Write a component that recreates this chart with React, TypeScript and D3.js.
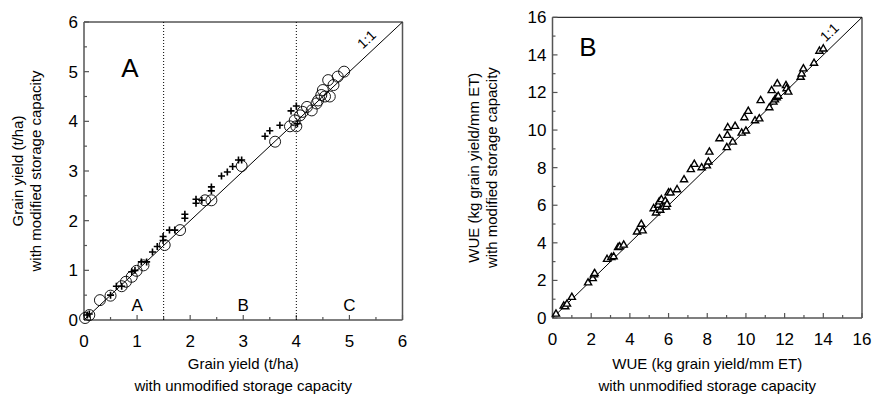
import React from "react";
import * as d3 from "d3";

// Panel A data
const circleX = [0.02, 0.1, 0.3, 0.5, 0.71, 0.79, 0.9, 0.99, 1.12, 1.52, 1.81, 2.28, 2.4, 2.97, 3.6, 3.88, 4.0, 3.97, 4.07, 4.12, 4.2, 4.29, 4.38, 4.41, 4.47, 4.54, 4.5, 4.63, 4.6, 4.7, 4.78, 4.9];
const circleY = [0.04, 0.1, 0.4, 0.49, 0.68, 0.77, 0.87, 0.99, 1.1, 1.51, 1.81, 2.41, 2.41, 3.1, 3.59, 3.9, 3.9, 4.02, 4.12, 4.19, 4.29, 4.22, 4.36, 4.42, 4.53, 4.5, 4.63, 4.5, 4.83, 4.73, 4.9, 5.0];
const plusX = [0.06, 0.1, 0.5, 0.61, 0.71, 0.9, 0.96, 1.08, 1.18, 1.29, 1.38, 1.49, 1.49, 1.61, 1.71, 1.9, 1.9, 2.11, 2.11, 2.22, 2.4, 2.4, 2.59, 2.7, 2.8, 2.91, 2.97, 3.41, 3.5, 3.69, 3.9, 4.0, 4.02];
const plusY = [0.1, 0.12, 0.5, 0.68, 0.68, 0.97, 1.0, 1.17, 1.17, 1.37, 1.48, 1.68, 1.6, 1.81, 1.81, 2.05, 2.13, 2.35, 2.43, 2.41, 2.68, 2.6, 2.9, 2.98, 3.09, 3.22, 3.22, 3.7, 3.81, 3.92, 4.21, 4.31, 3.95];

// Panel B data
const triX = [0.18, 0.58, 0.66, 0.75, 1.0, 1.84, 2.08, 2.14, 2.18, 2.82, 3.04, 3.16, 3.39, 3.47, 3.68, 4.37, 4.59, 4.66, 5.23, 5.35, 5.46, 5.52, 5.57, 5.63, 5.74, 5.83, 5.87, 5.92, 6.0, 6.1, 6.44, 6.8, 7.15, 7.33, 7.71, 7.98, 8.06, 8.11, 8.63, 9.01, 9.04, 9.06, 9.32, 9.44, 9.78, 9.92, 10.0, 10.12, 10.47, 10.69, 10.76, 11.21, 11.33, 11.42, 11.5, 11.59, 11.62, 11.67, 12.07, 12.1, 12.19, 12.83, 12.88, 12.97, 13.52, 13.8, 14.0];
const triY = [0.21, 0.64, 0.6, 0.74, 1.1, 1.87, 2.1, 2.3, 2.37, 3.12, 3.22, 3.26, 3.75, 3.79, 3.88, 4.58, 4.99, 4.64, 5.82, 5.59, 6.0, 6.18, 5.74, 6.3, 5.9, 6.23, 5.91, 6.05, 6.66, 6.66, 6.83, 7.36, 7.9, 8.18, 8.0, 8.1, 8.3, 8.83, 9.54, 9.07, 9.72, 10.13, 9.36, 10.2, 9.84, 10.66, 9.95, 11.0, 10.5, 10.6, 11.57, 11.19, 12.1, 11.49, 11.61, 11.72, 12.46, 11.8, 12.37, 12.2, 12.02, 12.81, 12.99, 13.26, 13.56, 14.2, 14.32];

const ticksA = [0, 1, 2, 3, 4, 5, 6];
const ticksB = [0, 2, 4, 6, 8, 10, 12, 14, 16];
const dividersA = [1.5, 4];
const regionLabels = ["A", "B", "C"];
const regionPos = [1, 3, 5];

const FONT = "'Liberation Sans', Arial, sans-serif";

function Frame({ x, y, ticks, minor, titleX, titleY, yOff }: any) {
  const [x0, x1] = x.range();
  const [y0, y1] = y.range(); // y0 bottom, y1 top
  const gray = "#555";
  return (
    <g fontFamily={FONT}>
      <line x1={x0} x2={x1} y1={y1} y2={y1} stroke="#000" strokeWidth={1} />
      <line x1={x0} x2={x0} y1={y0} y2={y1} stroke={gray} strokeWidth={1.5} />
      <line x1={x1} x2={x1} y1={y0} y2={y1} stroke={gray} strokeWidth={1.5} />
      <line x1={x0} x2={x1} y1={y0} y2={y0} stroke={gray} strokeWidth={1.5} />
      {ticks.map((t: number) => (
        <g key={"t" + t}>
          <line x1={x(t)} x2={x(t)} y1={y0} y2={y0 - 5} stroke={gray} strokeWidth={1.2} />
          <line x1={x0} x2={x0 + 5} y1={y(t)} y2={y(t)} stroke={gray} strokeWidth={1.2} />
          <text x={x(t)} y={y0 + 27} fontSize={17} textAnchor="middle">{t}</text>
          <text x={x0 - 6} y={y(t) + 6} fontSize={17} textAnchor="end">{t}</text>
        </g>
      ))}
      {minor.map((t: number) => (
        <g key={"m" + t}>
          <line x1={x(t)} x2={x(t)} y1={y0} y2={y0 - 3} stroke={gray} strokeWidth={1.2} />
          <line x1={x0} x2={x0 + 3} y1={y(t)} y2={y(t)} stroke={gray} strokeWidth={1.2} />
        </g>
      ))}
      <text x={(x0 + x1) / 2} y={369} fontSize={15} textAnchor="middle">{titleX[0]}</text>
      <text x={(x0 + x1) / 2} y={391} fontSize={15} textAnchor="middle">{titleX[1]}</text>
      <text transform={`translate(${x0 - yOff},${(y0 + y1) / 2}) rotate(-90)`} fontSize={15} textAnchor="middle">{titleY[0]}</text>
      <text transform={`translate(${x0 - yOff + 18},${(y0 + y1) / 2}) rotate(-90)`} fontSize={15} textAnchor="middle">{titleY[1]}</text>
    </g>
  );
}

export default function App() {
  const xA = d3.scaleLinear().domain([0, 6]).range([84, 402.5]);
  const yA = d3.scaleLinear().domain([0, 6]).range([320, 22]);
  const xB = d3.scaleLinear().domain([0, 16]).range([552.5, 862]);
  const yB = d3.scaleLinear().domain([0, 16]).range([318, 17.3]);

  const minorA = d3.range(0.5, 6, 1);
  const minorB = d3.range(1, 16, 2);

  const tri = d3.symbol().type(d3.symbolTriangle).size(22)();

  const angA = (Math.atan2(yA(6) - yA(0), xA(6) - xA(0)) * 180) / Math.PI;
  const angB = (Math.atan2(yB(16) - yB(0), xB(16) - xB(0)) * 180) / Math.PI;

  return (
    <svg width={875} height={404} style={{ position: "absolute", left: 0, top: 0 }}>
      <rect width={875} height={404} fill="#fff" />
      {/* Panel A */}
      <Frame x={xA} y={yA} ticks={ticksA} minor={minorA} yOff={61}
        titleX={["Grain yield (t/ha)", "with unmodified storage capacity"]}
        titleY={["Grain yield (t/ha)", "with modified storage capacity"]} />
      {dividersA.map((d) => (
        <line key={d} x1={xA(d)} x2={xA(d)} y1={yA(0)} y2={yA(6)} stroke="#000" strokeWidth={1} strokeDasharray="1,2" />
      ))}
      <line x1={xA(0)} y1={yA(0)} x2={xA(6)} y2={yA(6)} stroke="#000" strokeWidth={1} />
      {regionLabels.map((l, i) => (
        <text key={l} x={xA(regionPos[i])} y={311} fontSize={17} fontFamily={FONT} textAnchor="middle">{l}</text>
      ))}
      <text x={130} y={77} fontSize={26} fontFamily={FONT} textAnchor="middle">A</text>
      <text transform={`translate(${xA(5.48) - 5},${yA(5.48) - 5}) rotate(${angA})`} fontSize={14} fontFamily={FONT} textAnchor="middle">1:1</text>
      {circleX.map((v, i) => (
        <circle key={"c" + i} cx={xA(v)} cy={yA(circleY[i])} r={5.5} fill="none" stroke="#000" strokeWidth={0.9} />
      ))}
      {plusX.map((v, i) => (
        <path key={"p" + i} d={`M${xA(v) - 3.5},${yA(plusY[i])}h7M${xA(v)},${yA(plusY[i]) - 3.5}v7`} stroke="#000" strokeWidth={1.6} />
      ))}

      {/* Panel B */}
      <Frame x={xB} y={yB} ticks={ticksB} minor={minorB} yOff={74}
        titleX={["WUE (kg grain yield/mm ET)", "with unmodified storage capacity"]}
        titleY={["WUE (kg grain yield/mm ET)", "with modified storage capacity"]} />
      <line x1={xB(0)} y1={yB(0)} x2={xB(16)} y2={yB(16)} stroke="#000" strokeWidth={1} />
      <text x={588} y={56} fontSize={26} fontFamily={FONT} textAnchor="middle">B</text>
      <text transform={`translate(${xB(14.75) - 5},${yB(14.75) - 5}) rotate(${angB})`} fontSize={14} fontFamily={FONT} textAnchor="middle">1:1</text>
      {triX.map((v, i) => (
        <path key={"t" + i} d={tri!} transform={`translate(${xB(v)},${yB(triY[i])})`} fill="#fff" stroke="#000" strokeWidth={1.4} />
      ))}
    </svg>
  );
}
